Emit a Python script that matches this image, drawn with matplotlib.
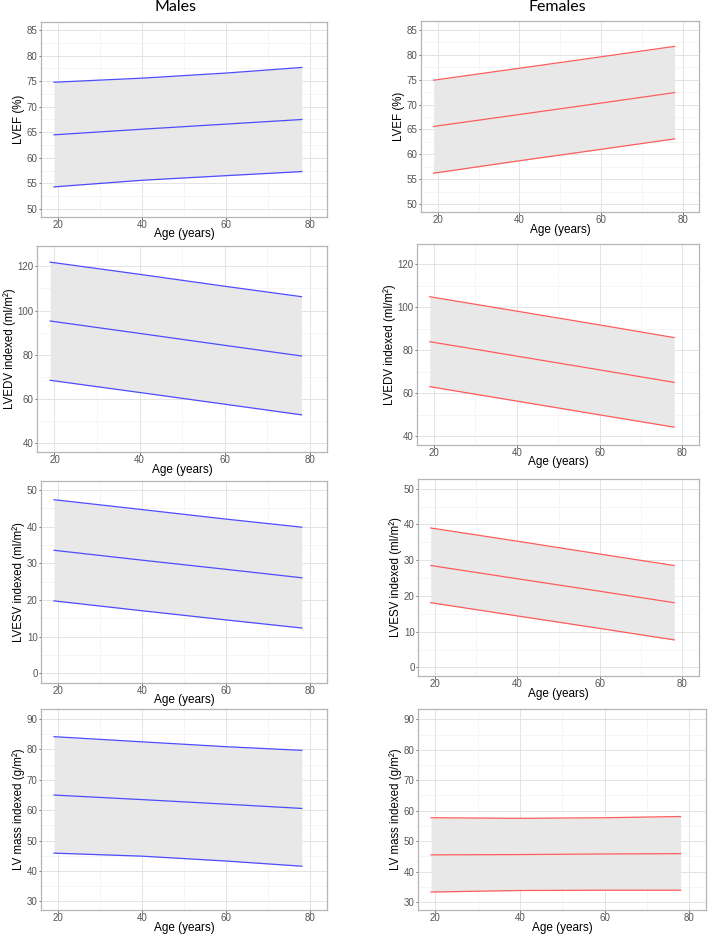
import matplotlib
matplotlib.use("Agg")
import matplotlib.pyplot as plt
from matplotlib.ticker import MultipleLocator

plt.rcParams['font.family'] = ['Liberation Sans', 'DejaVu Sans']

# ages where the reference curves were read
age = [19, 40, 60, 78]

# males
m_lvef_lo = [54.3, 55.6, 56.5, 57.3]
m_lvef_mid = [64.5, 65.6, 66.6, 67.5]
m_lvef_hi = [74.8, 75.6, 76.6, 77.7]
m_edv_lo = [68.5, 63.0, 57.7, 52.9]
m_edv_mid = [95.3, 89.7, 84.3, 79.5]
m_edv_hi = [121.9, 116.4, 111.0, 106.3]
m_esv_lo = [19.8, 17.1, 14.6, 12.4]
m_esv_mid = [33.6, 30.9, 28.4, 26.1]
m_esv_hi = [47.4, 44.7, 42.1, 39.9]
m_mass_lo = [45.9, 44.9, 43.3, 41.6]
m_mass_mid = [65.0, 63.5, 62.0, 60.6]
m_mass_hi = [84.2, 82.5, 80.9, 79.7]

# females
f_lvef_lo = [56.2, 58.7, 61.0, 63.1]
f_lvef_mid = [65.6, 68.0, 70.3, 72.4]
f_lvef_hi = [74.9, 77.3, 79.6, 81.7]
f_edv_lo = [63.1, 56.4, 50.0, 44.3]
f_edv_mid = [84.0, 77.3, 70.9, 65.1]
f_edv_hi = [104.9, 98.2, 91.8, 85.9]
f_esv_lo = [18.1, 14.4, 10.9, 7.7]
f_esv_mid = [28.5, 24.8, 21.3, 18.1]
f_esv_hi = [39.0, 35.3, 31.7, 28.5]
f_mass_lo = [33.3, 33.8, 33.9, 33.9]
f_mass_mid = [45.5, 45.6, 45.8, 45.9]
f_mass_hi = [57.7, 57.5, 57.7, 58.1]

W, H = 708, 935
fig = plt.figure(figsize=(W / 100, H / 100), dpi=100)

BLUE = '#4d4dff'
RED = '#ff5c5c'

# (pixel box, series, colour, ylabel, ylim, major, minor)
panels = [
    ((41, 22, 327, 217), (m_lvef_lo, m_lvef_mid, m_lvef_hi), BLUE, 'LVEF (%)', (48.4, 86.6), 5, 2.5),
    ((421, 21, 699, 212), (f_lvef_lo, f_lvef_mid, f_lvef_hi), RED, 'LVEF (%)', (48.4, 86.8), 5, 2.5),
    ((37, 246, 327, 452), (m_edv_lo, m_edv_mid, m_edv_hi), BLUE, 'LVEDV indexed (ml/m²)', (36.1, 129.2), 20, 10),
    ((417, 244, 699, 445), (f_edv_lo, f_edv_mid, f_edv_hi), RED, 'LVEDV indexed (ml/m²)', (36.0, 129.4), 20, 10),
    ((41, 481, 327, 683), (m_esv_lo, m_esv_mid, m_esv_hi), BLUE, 'LVESV indexed (ml/m²)', (-2.6, 52.5), 10, 5),
    ((418, 479, 699, 676), (f_esv_lo, f_esv_mid, f_esv_hi), RED, 'LVESV indexed (ml/m²)', (-2.4, 52.7), 10, 5),
    ((41, 709, 327, 910), (m_mass_lo, m_mass_mid, m_mass_hi), BLUE, 'LV mass indexed (g/m²)', (27.2, 93.3), 10, 5),
    ((418, 709, 706, 910), (f_mass_lo, f_mass_mid, f_mass_hi), RED, 'LV mass indexed (g/m²)', (27.4, 93.4), 10, 5),
]

for (x0, y0, x1, y1), (lo, mid, hi), col, ylab, ylim, major, minor in panels:
    ax = fig.add_axes([x0 / W, 1 - y1 / H, (x1 - x0) / W, (y1 - y0) / H])
    ax.fill_between(age, lo, hi, color='#e8e8e8', lw=0, zorder=2)
    for s in (lo, mid, hi):
        ax.plot(age, s, color=col, lw=0.9, zorder=3)
    ax.set_xlim(15.9, 84.0)
    ax.set_ylim(*ylim)
    ax.xaxis.set_major_locator(MultipleLocator(20))
    ax.xaxis.set_minor_locator(MultipleLocator(10))
    ax.yaxis.set_major_locator(MultipleLocator(major))
    ax.yaxis.set_minor_locator(MultipleLocator(minor))
    ax.grid(which='major', color='#e4e4e4', lw=0.7, zorder=0)
    ax.grid(which='minor', color='#f2f2f2', lw=0.5, zorder=0)
    ax.set_axisbelow(True)
    for sp in ax.spines.values():
        sp.set_color('#b5b5b5')
        sp.set_linewidth(0.9)
    ax.tick_params(which='major', length=1.8, width=0.6, color='#555555',
                   labelsize=7, labelcolor='#555555', pad=0.6)
    ax.tick_params(which='minor', length=0)
    ax.set_xlabel('Age (years)', fontsize=8.5, va='center')
    ax.xaxis.set_label_coords(0.5, -17.5 / (y1 - y0))
    ax.set_ylabel(ylab, fontsize=8.3, labelpad=1.2)

fig.text(175 / W, 1 - 7 / H, 'Males', ha='center', va='center', fontsize=11.5, family=['Lato', 'DejaVu Sans'])
fig.text(557 / W, 1 - 7 / H, 'Females', ha='center', va='center', fontsize=11.5, family=['Lato', 'DejaVu Sans'])

fig.savefig('out.png', dpi=100)
